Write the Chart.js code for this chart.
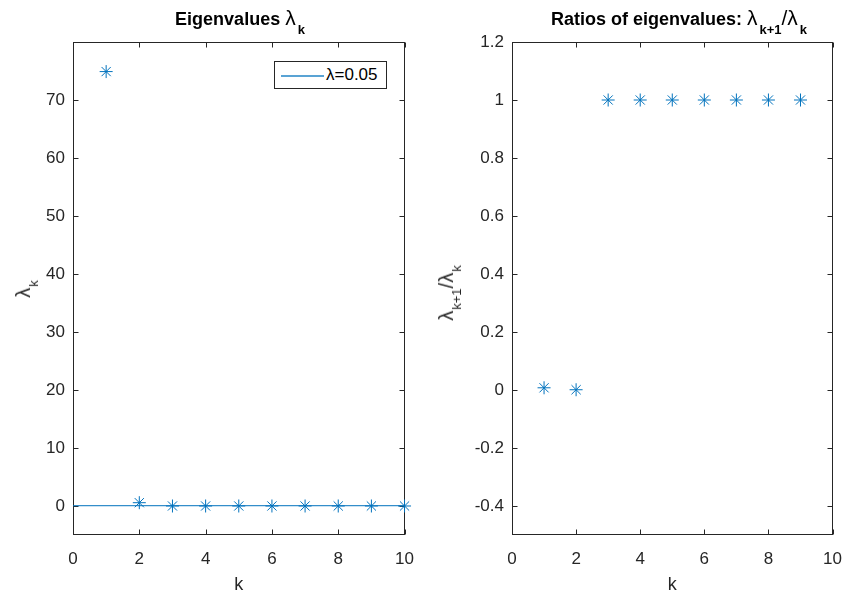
<!DOCTYPE html>
<html><head><meta charset="utf-8">
<script src="https://cdn.jsdelivr.net/npm/chart.js@4"></script>
<style>
html,body{margin:0;padding:0;background:#fff;}
#wrap{position:relative;width:856px;height:599px;overflow:hidden;font-family:"Liberation Sans",Arial,Helvetica,sans-serif;color:#000;}
canvas{position:absolute;top:0;}
.title{position:absolute;top:8px;font-weight:bold;font-size:18px;line-height:22px;white-space:nowrap;transform:translateX(-50%);}
.lam{font-weight:normal;font-size:21px;line-height:20px;}
.sub{font-size:13px;line-height:13px;position:relative;top:9px;margin-left:2px;font-weight:bold;}
.ylab{position:absolute;font-size:18px;line-height:22px;white-space:nowrap;transform:translate(-50%,-50%) rotate(-90deg);color:#262626;}
.ylab .lam{font-size:20px;}
.ylab .sub{font-weight:normal;top:8px;margin-left:1px;}
.legend{position:absolute;left:274px;top:61px;width:113px;height:28px;box-sizing:border-box;border:1px solid #262626;background:#fff;}
.legend .ln{position:absolute;left:6px;top:13px;width:43px;height:2px;background:#0072BD;opacity:0.65;}
.legend .tx{position:absolute;left:51px;top:3px;font-size:17px;line-height:20px;color:#000;}
</style></head>
<body><div id="wrap">
<canvas id="c1" width="428" height="599" style="left:0;width:428px;height:599px"></canvas>
<canvas id="c2" width="428" height="599" style="left:428px;width:428px;height:599px"></canvas>
<div class="title" style="left:240px">Eigenvalues <span class="lam">λ</span><span class="sub">k</span></div>
<div class="title" style="left:679px">Ratios of eigenvalues: <span class="lam">λ</span><span class="sub">k+1</span><span class="lam">/λ</span><span class="sub">k</span></div>
<div class="ylab" style="left:24px;top:289px"><span class="lam">λ</span><span class="sub">k</span></div>
<div class="ylab" style="left:447px;top:293px"><span class="lam">λ</span><span class="sub">k+1</span><span class="lam">/λ</span><span class="sub">k</span></div>
<div class="legend"><div class="ln"></div><div class="tx">λ=0.05</div></div>
</div>
<script>
const kLeft = [1,2,3,4,5,6,7,8,9,10];
const eigenvalues = [74.9,0.57,0.0005,0.0005,0.0005,0.0005,0.0005,0.0005,0.0005,0.0005];
const kRight = [1,2,3,4,5,6,7,8,9];
const ratios = [0.0076,0.0009,1,1,1,1,1,1,1];
const lambdaLevel = 0.05;
const lineX = [0,10];
const xTicks = [0,2,4,6,8,10];
const yTicksLeft = [0,10,20,30,40,50,60,70];
const yTicksRight = [-0.4,-0.2,0,0.2,0.4,0.6,0.8,1,1.2];

const BLUE = '#0072BD';
const AX = '#262626';
const FONT = '"Liberation Sans", Arial, Helvetica, sans-serif';

const boxPlugin = {
  id: 'box',
  beforeDatasetsDraw(chart) {
    const {ctx, chartArea: a, scales: {x, y}} = chart;
    ctx.save();
    ctx.strokeStyle = AX;
    ctx.lineWidth = 1;
    const L = Math.round(a.left) + 0.5, R = Math.round(a.right) - 0.5;
    const T = Math.round(a.top) + 0.5, B = Math.round(a.bottom) - 0.5;
    ctx.strokeRect(L, T, R - L, B - T);
    const tl = 5;
    ctx.beginPath();
    x.ticks.forEach(t => {
      const px = Math.round(x.getPixelForValue(t.value)) + 0.5;
      ctx.moveTo(px, B); ctx.lineTo(px, B - tl);
      ctx.moveTo(px, T); ctx.lineTo(px, T + tl);
    });
    y.ticks.forEach(t => {
      const py = Math.round(y.getPixelForValue(t.value)) + 0.5;
      ctx.moveTo(L, py); ctx.lineTo(L + tl, py);
      ctx.moveTo(R, py); ctx.lineTo(R - tl, py);
    });
    ctx.stroke();
    ctx.restore();
  }
};

function makeChart(id, areaLeft, areaRight, datasets, yMin, yMax, yTicks) {
  const W = 428, H = 599, top = 42, bottom = 535;
  return new Chart(document.getElementById(id), {
    type: 'line',
    data: { datasets },
    options: {
      responsive: false,
      animation: false,
      events: [],
      layout: { padding: { left: 0, right: W - areaRight, top: top, bottom: 0 } },
      plugins: { legend: { display: false }, tooltip: { enabled: false }, title: { display: false } },
      scales: {
        x: {
          type: 'linear', min: 0, max: 10,
          afterBuildTicks: s => { s.ticks = xTicks.map(v => ({ value: v })); },
          afterFit: s => { s.height = H - bottom; },
          grid: { display: false, drawTicks: false },
          border: { display: false },
          ticks: { padding: 14, color: AX, font: { family: FONT, size: 17 }, maxRotation: 0, callback: v => String(v) },
          title: { display: true, text: 'k', color: AX, font: { family: FONT, size: 18 }, padding: { top: 0, bottom: 3 } }
        },
        y: {
          type: 'linear', min: yMin, max: yMax,
          afterBuildTicks: s => { s.ticks = yTicks.map(v => ({ value: v })); },
          afterFit: s => { s.width = areaLeft; },
          grid: { display: false, drawTicks: false },
          border: { display: false },
          ticks: { padding: 8, color: AX, font: { family: FONT, size: 17 }, callback: v => String(v) }
        }
      }
    },
    plugins: [boxPlugin]
  });
}

const starStyle = {
  showLine: false, pointStyle: 'star', pointRadius: 6.5, pointBorderWidth: 1,
  borderColor: BLUE, backgroundColor: BLUE, pointBorderColor: BLUE, clip: false
};

makeChart('c1', 73, 406, [
  { label: 'λ=0.05', data: lineX.map(x => ({ x, y: lambdaLevel })), borderColor: BLUE, borderWidth: 1, pointRadius: 0, clip: false },
  Object.assign({ label: 'eig', data: kLeft.map((k, i) => ({ x: k, y: eigenvalues[i] })) }, starStyle)
], -5, 80, yTicksLeft);

makeChart('c2', 84, 417, [
  Object.assign({ label: 'ratio', data: kRight.map((k, i) => ({ x: k, y: ratios[i] })) }, starStyle)
], -0.5, 1.2, yTicksRight);
</script>
</body></html>
